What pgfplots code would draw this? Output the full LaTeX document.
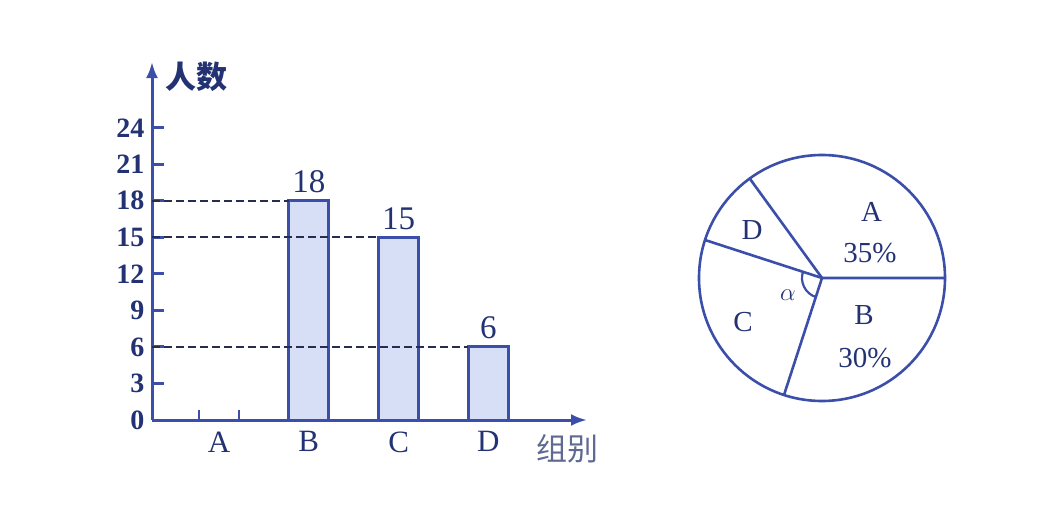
\documentclass[border=0pt]{standalone}
\usepackage{pgfplots}
\pgfplotsset{compat=1.18}
\usepackage{fontspec}
\setmainfont{Liberation Serif}
\newfontfamily\cjk{Noto Sans CJK SC}
\usetikzlibrary{arrows.meta}
\definecolor{axisblue}{RGB}{58,78,170}
\definecolor{barfill}{RGB}{214,223,246}
\definecolor{navy}{RGB}{35,50,115}
\definecolor{dashc}{RGB}{40,45,80}
\definecolor{soft}{RGB}{95,105,145}
\begin{document}
\begin{tikzpicture}
\path (0,0) rectangle (1063pt,531pt);
% bar chart
\begin{axis}[
    at={(152pt,111pt)}, anchor=south west,
    scale only axis, width=435pt, height=358pt,
    xmin=-0.746, xmax=4.098, ymin=0, ymax=29.4,
    axis lines=left,
    axis line style={axisblue, line width=3pt, -{Latex[length=16pt,width=12pt]}},
    xtick={0,1,2,3}, xticklabels={A,B,C,D},
    ytick={0,3,...,24},
    tick align=inside,
    major tick length=12pt,
    x tick style={draw=none},
    y tick style={axisblue, line width=3pt},
    /pgf/number format/assume math mode=true,
    yticklabel style={font=\bfseries\fontsize{28}{30}\selectfont, text=navy, xshift=-4pt},
    xticklabel style={font=\fontsize{31}{33}\selectfont, text=navy, yshift=-8pt},
    clip=false,
]
    \addplot[ybar, bar width=40pt, fill=barfill, draw=axisblue, line width=3pt,
        nodes near coords,
        every node near coord/.append style={font=\fontsize{33}{35}\selectfont, text=navy, yshift=3pt}]
        coordinates {(1,18) (2,15) (3,6)};
    % empty bar A: only its edge marks
    \addplot[axisblue, line width=2.5pt] coordinates {(-0.2227,0) (-0.2227,0.85)};
    \addplot[axisblue, line width=2.5pt] coordinates {(0.2227,0) (0.2227,0.85)};
    % reference lines
    \addplot[dashc, line width=2.2pt, dash pattern=on 8pt off 4pt] coordinates {(-0.746,18) (0.777,18)};
    \addplot[dashc, line width=2.2pt, dash pattern=on 8pt off 4pt] coordinates {(-0.746,15) (1.777,15)};
    \addplot[dashc, line width=2.2pt, dash pattern=on 8pt off 4pt] coordinates {(-0.746,6) (2.777,6)};
    \node[text=navy, font=\cjk\bfseries\fontsize{31}{33}\selectfont] at (rel axis cs:0.1034,0.958) {人数};
    \node[text=soft, font=\cjk\fontsize{31}{33}\selectfont] at (rel axis cs:0.956,-0.081) {组别};
\end{axis}
% pie chart: A 35%, B 30%, C 25%, D 10%
\begin{axis}[
    at={(822pt,253pt)}, anchor=center,
    scale only axis, width=246pt, height=246pt,
    xmin=-1, xmax=1, ymin=-1, ymax=1,
    hide axis, clip=false,
]
    \draw[axisblue, line width=2.6pt] (axis cs:0,0) circle[radius=1];
    \addplot[axisblue, line width=2.6pt] coordinates {(1,0) (0,0) (-0.5878,0.8090)};
    \addplot[axisblue, line width=2.6pt] coordinates {(-0.9511,0.3090) (0,0) (-0.3090,-0.9511)};
    \draw[axisblue, line width=2.2pt] ([shift={(162:20pt)}]axis cs:0,0) arc[start angle=162, end angle=252, radius=20pt];
    \node[text=navy, font=\fontsize{29}{31}\selectfont] at (axis cs:0.404,0.539) {A};
    \node[text=navy, font=\fontsize{29}{31}\selectfont] at (axis cs:0.39,0.203) {35\%};
    \node[text=navy, font=\fontsize{29}{31}\selectfont] at (axis cs:0.341,-0.301) {B};
    \node[text=navy, font=\fontsize{29}{31}\selectfont] at (axis cs:0.35,-0.65) {30\%};
    \node[text=navy, font=\fontsize{29}{31}\selectfont] at (axis cs:-0.642,-0.358) {C};
    \node[text=navy, font=\fontsize{29}{31}\selectfont] at (axis cs:-0.569,0.39) {D};
    \node[text=navy, font=\fontsize{27}{29}\selectfont] at (axis cs:-0.276,-0.138) {$\alpha$};
\end{axis}
\end{tikzpicture}
\end{document}
